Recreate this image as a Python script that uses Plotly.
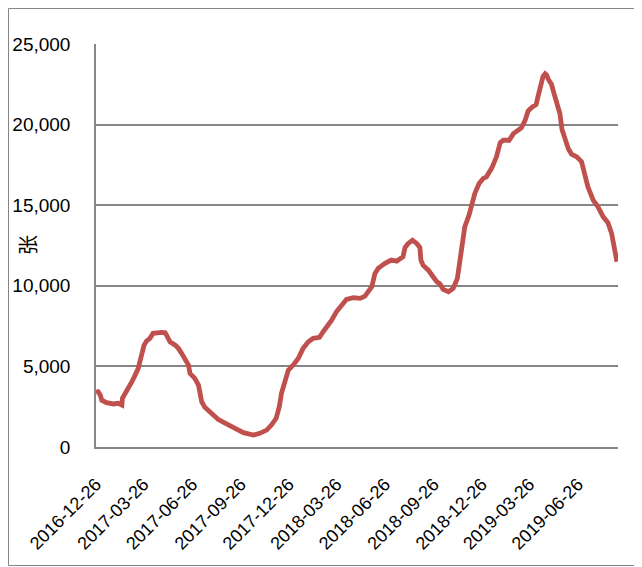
import plotly.graph_objects as go

dates = [
    "2016-12-26", "2016-12-30", "2017-01-03", "2017-01-06", "2017-01-15", "2017-01-28",
    "2017-02-06", "2017-02-13", "2017-02-14", "2017-02-19", "2017-02-25", "2017-03-04",
    "2017-03-10", "2017-03-16", "2017-03-19", "2017-03-23", "2017-03-27", "2017-04-01",
    "2017-04-07", "2017-04-13", "2017-04-20", "2017-04-29", "2017-05-06", "2017-05-10",
    "2017-05-15", "2017-05-25", "2017-05-31", "2017-06-06", "2017-06-12", "2017-06-19",
    "2017-06-22", "2017-07-01", "2017-07-08", "2017-07-11", "2017-07-14", "2017-07-20",
    "2017-08-02", "2017-08-14", "2017-08-30", "2017-09-06", "2017-09-18", "2017-10-01",
    "2017-10-20", "2017-11-01", "2017-11-14", "2017-11-23", "2017-12-02", "2017-12-08",
    "2017-12-12", "2017-12-19", "2017-12-25", "2018-01-03", "2018-01-13", "2018-01-22",
    "2018-02-01", "2018-02-10", "2018-02-22", "2018-03-01", "2018-03-11", "2018-03-17",
    "2018-03-26", "2018-04-05", "2018-04-14", "2018-04-27", "2018-05-10", "2018-05-19",
    "2018-05-25", "2018-06-01", "2018-06-07", "2018-06-13", "2018-06-26", "2018-07-08",
    "2018-07-18", "2018-07-30", "2018-08-03", "2018-08-09", "2018-08-17", "2018-08-25",
    "2018-08-31", "2018-09-02", "2018-09-06", "2018-09-16", "2018-09-25", "2018-10-02",
    "2018-10-08", "2018-10-14", "2018-10-24", "2018-11-02", "2018-11-10", "2018-11-16",
    "2018-11-20", "2018-11-24", "2018-12-02", "2018-12-07", "2018-12-13", "2018-12-21",
    "2018-12-29", "2019-01-04", "2019-01-14", "2019-01-23", "2019-01-30", "2019-02-05",
    "2019-02-16", "2019-02-24", "2019-03-02", "2019-03-11", "2019-03-18", "2019-03-24",
    "2019-04-01", "2019-04-08", "2019-04-12", "2019-04-16", "2019-04-21", "2019-04-25",
    "2019-04-28", "2019-05-01", "2019-05-07", "2019-05-12", "2019-05-17", "2019-05-23",
    "2019-05-27", "2019-06-03", "2019-06-08", "2019-06-14", "2019-06-24", "2019-07-03",
    "2019-07-09", "2019-07-15", "2019-07-25", "2019-08-03", "2019-08-13", "2019-08-22",
    "2019-08-29", "2019-09-02", "2019-09-08",
]

values = [
    3400, 3430, 3220, 2900, 2750, 2670,
    2710, 2600, 3020, 3290, 3640, 4050,
    4460, 4880, 5290, 5810, 6320, 6590,
    6740, 7050, 7110, 7110, 7090, 6840,
    6530, 6320, 6120, 5810, 5500, 5080,
    4570, 4260, 3840, 3430, 2810, 2460,
    2090, 1720, 1430, 1300, 1050, 890,
    740, 850, 1050, 1360, 1780, 2500,
    3330, 4150, 4770, 5080, 5500, 6120,
    6530, 6740, 6800, 7150, 7560, 7870,
    8390, 8800, 9150, 9260, 9220, 9360,
    9630, 9940, 10770, 11080, 11390, 11600,
    11530, 11800, 12380, 12630, 12830, 12630,
    12380, 11590, 11280, 10970, 10560, 10250,
    10110, 9780, 9630, 9840, 10460, 11800,
    12830, 13660, 14380, 15000, 15730, 16350,
    16660, 16760, 17300, 18000, 18880, 19030,
    19030, 19440, 19600, 19800, 20250, 20850,
    21100, 21250, 21800, 22350, 22980, 23150,
    23060, 22820, 22500, 21920, 21300, 20690,
    19700, 19030, 18500, 18170, 18000, 17700,
    16970, 16140, 15310, 14900, 14280, 13920,
    13240, 12420, 11490,
]

tick_dates = [
    "2016-12-26", "2017-03-26", "2017-06-26", "2017-09-26", "2017-12-26",
    "2018-03-26", "2018-06-26", "2018-09-26", "2018-12-26", "2019-03-26",
    "2019-06-26",
]

y_title = "张"

FONT = "Liberation Sans"
GRID = "#868686"

# page body has an 8px margin; the figure is sized/placed to compensate
W, H = 634, 559
L, R, T, B = 88, 24, 36, 120
PW, PH = W - L - R, H - T - B


def px(fx):
    return (fx - L) / PW


def py(fy):
    return (T + PH - fy) / PH


fig = go.Figure()
fig.add_trace(go.Scatter(
    x=dates, y=values, mode="lines",
    line=dict(color="#C0504D", width=4.8),
    hoverinfo="skip", showlegend=False,
))

fig.update_layout(
    width=W, height=H,
    margin=dict(l=L, r=R, t=T, b=B, autoexpand=False),
    paper_bgcolor="white", plot_bgcolor="white",
    font=dict(family=FONT, size=18, color="black"),
    xaxis=dict(
        type="date",
        range=["2016-12-26", "2019-09-10"],
        tickvals=tick_dates,
        ticktext=tick_dates,
        tickangle=-45,
        showgrid=False,
        showline=True, linecolor=GRID, linewidth=1.5,
        ticks="",
        zeroline=False,
        automargin=False,
        ticklabelstandoff=18,
        tickfont=dict(family=FONT, size=18),
    ),
    yaxis=dict(
        range=[0, 25000],
        tickvals=[0, 5000, 10000, 15000, 20000, 25000],
        tickformat=",",
        showgrid=True, gridcolor=GRID, gridwidth=1.5,
        showline=True, linecolor=GRID, linewidth=1.5,
        ticks="",
        zeroline=False,
        automargin=False,
        ticklabelstandoff=20,
        tickfont=dict(family=FONT, size=19),
    ),
    annotations=[dict(
        text=y_title, xref="paper", yref="paper",
        x=px(27 - 8), y=py(245 - 8),
        showarrow=False, textangle=-90,
        font=dict(family="Noto Sans CJK SC", size=20, color="black"),
        xanchor="center", yanchor="middle",
    )],
    shapes=[dict(
        type="rect", xref="paper", yref="paper",
        x0=px(0.5), x1=px(W + 6),
        y0=py(557.5), y1=py(0.5),
        line=dict(color=GRID, width=1), fillcolor="rgba(0,0,0,0)",
        layer="below",
    )],
)

fig.write_html("out.html")
